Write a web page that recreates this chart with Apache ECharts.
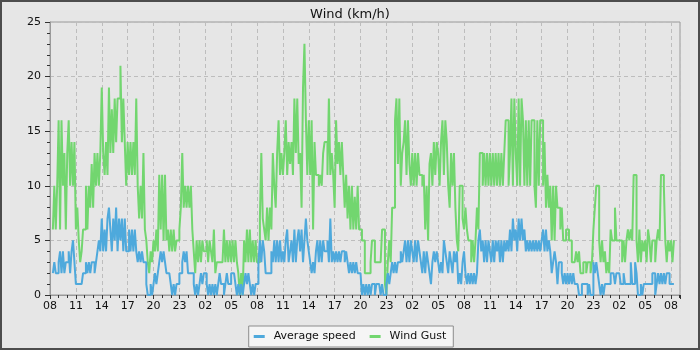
<!DOCTYPE html>
<html>
<head>
<meta charset="utf-8">
<script src="https://cdn.jsdelivr.net/npm/echarts@6/dist/echarts.min.js"></script>
<style>
html,body{margin:0;padding:0;background:#e6e6e6;}
#chart{width:700px;height:350px;}
</style>
</head>
<body>
<div id="chart"></div>
<script>
// Time base: first sample at 08:20, one sample every 10 minutes
const startHourOfDay = 8;
const firstSampleOffsetMin = 20;
const stepMin = 10;
const tickHours = ['08','11','14','17','20','23','02','05','08','11','14','17','20','23','02','05','08','11','14','17','20','23','02','05','08'];
const seriesNames = ['Average speed', 'Wind Gust'];

const avgSpeed = [
  2,3,2,2,
  3,4,2,4,2,3, 3,4,2,4,5,3, 1,1,1,1,1,2, 2,3,2,3,2,3, 3,2,3,4,5,4,
  7,4,6,4,7,8, 6,4,7,5,8,4, 7,5,7,4,7,4, 4,6,4,6,4,6, 4,3,4,3,4,3,
  3,1,0,0,1,0, 1,2,1,2,3,4, 3,4,3,2,2,2, 1,0,1,0,1,1, 2,2,3,4,3,4,
  2,2,2,2,1,0, 1,0,1,2,1,2, 2,1,0,1,0,1, 0,1,0,1,2,1, 1,0,1,2,1,1,
  2,2,2,1,0,1, 0,1,0,1,2,1, 2,1,0,1,0,1, 1,3,5,3,5,4, 2,2,2,2,4,3,
  5,3,5,3,5,3, 4,3,5,6,3,4, 5,3,6,3,5,6, 4,6,3,5,7,5, 4,3,2,3,2,4,
  5,3,5,3,5,4, 4,5,3,7,3,4, 3,4,3,4,3,4, 4,3,4,3,2,3, 2,3,2,3,2,2,
  2,0,1,0,1,0, 1,0,1,1,0,1, 1,1,0,1,0,0, 1,2,1,2,3,2, 3,2,3,3,4,3,
  4,5,3,5,3,5, 4,3,5,3,5,4, 3,2,4,2,4,3, 2,1,3,4,3,4, 3,2,3,2,5,4,
  3,2,4,3,2,4, 3,4,1,2,1,3, 4,2,1,2,1,2, 1,2,1,2,5,6, 4,5,3,5,3,5,
  4,3,5,3,5,4, 5,3,5,3,5,4, 5,4,6,4,7,5, 6,4,7,5,7,5, 6,4,5,4,5,4,
  5,4,5,4,5,4, 5,6,4,6,4,5, 4,2,3,4,3,1, 3,3,2,1,2,1, 2,1,2,1,2,1,
  1,1,0,0,1,1, 1,1,0,1,0,0, 3,2,3,2,1,0, 1,0,1,1,1,1, 2,2,2,1,2,2,
  2,1,1,2,1,1, 1,1,3,1,1,3, 2,0,0,1,0,1, 1,1,1,1,1,2, 2,0,1,2,1,2,
  1,2,1,2,2,1,
  1,1,1
];

const windGust = [
  6,10,6,10,
  16,6,16,10,13,6, 13,16,10,14,10,14, 6,8,5,3,4,6, 6,10,6,10,8,12, 8,13,10,13,10,13,
  19,13,11,14,11,19, 13,17,13,18,14,18, 18,21,14,18,14,10, 14,11,14,11,14,11, 18,10,7,10,7,13,
  6,5,3,2,4,3, 5,4,6,4,11,6, 11,5,11,5,6,4, 6,4,6,4,5,5, 6,8,13,8,10,8,
  10,8,10,6,4,2, 5,3,5,3,5,4, 4,5,3,5,4,3, 6,2,3,3,3,3, 3,6,3,5,3,5,
  3,5,3,5,3,2, 0,2,0,5,3,6, 3,6,3,5,3,5, 3,3,7,13,7,6, 5,8,5,8,6,13,
  10,8,13,16,11,13, 11,13,16,11,14,12, 14,11,18,13,18,12, 13,8,19,23,16,11, 16,11,16,6,14,11,
  11,10,11,10,13,14, 14,11,18,11,13,11, 8,16,12,14,11,14, 11,8,11,7,10,6, 10,6,9,6,10,6,
  6,5,5,2,2,2, 2,3,5,5,3,3, 3,3,3,6,6,1, 0,3,5,3,8,8, 16,18,12,18,10,13,
  14,16,11,16,12,10, 13,10,13,10,13,11, 11,10,11,6,10,5, 12,13,10,14,11,14, 13,10,14,16,11,16,
  14,10,8,13,10,13, 8,5,4,10,10,7, 6,8,6,5,5,3, 5,3,5,8,6,13, 13,10,13,10,13,10,
  13,10,13,10,13,10, 13,10,13,10,13,16, 16,10,13,18,10,18, 13,10,18,10,18,16, 10,16,10,16,10,16,
  16,10,8,16,10,16, 16,10,14,8,11,8, 10,5,10,5,10,8, 8,6,8,5,5,6, 6,5,5,3,3,3,
  4,3,4,2,2,3, 3,2,3,3,2,3, 6,8,10,10,5,3, 5,3,4,2,3,2, 6,5,5,8,5,5,
  5,5,3,5,3,5, 6,5,6,5,11,11, 5,3,6,3,5,4, 5,3,6,5,3,5, 5,3,5,6,5,11,
  11,10,5,3,5,4,
  5,3,5
];

const sampleHour = i => (firstSampleOffsetMin + i * stepMin) / 60; // hours since 08:00
const avgData = avgSpeed.map((v, i) => [sampleHour(i), v]);
const gustData = windGust.map((v, i) => [sampleHour(i), v]);

const chart = echarts.init(document.getElementById('chart'), null, {renderer: 'canvas'});
const font = 'DejaVu Sans';
chart.setOption({
  animation: false,
  backgroundColor: '#e6e6e6',
  textStyle: {fontFamily: font},
  title: {
    text: 'Wind (km/h)', left: 'center', top: 3,
    textStyle: {fontFamily: font, fontSize: 13, fontWeight: 'normal', color: '#111'}
  },
  graphic: [{
    type: 'rect', silent: true, z: 100,
    shape: {x: 0, y: 0, width: 700, height: 350},
    style: {fill: 'none', stroke: '#4d4d4d', lineWidth: 4}
  }],
  legend: {
    bottom: 3, left: 'center',
    backgroundColor: '#f5f5f5', borderColor: '#8c8c8c', borderWidth: 1, borderRadius: 0,
    padding: [5, 7, 5, 5], itemGap: 14, itemWidth: 11, itemHeight: 3,
    icon: 'rect',
    textStyle: {fontFamily: font, fontSize: 11, color: '#111', padding: [0, 0, 0, 4]},
    data: seriesNames
  },
  grid: {
    left: 50, right: 20, top: 22, bottom: 55,
    show: true, borderColor: '#9a9a9a', borderWidth: 1, backgroundColor: 'transparent'
  },
  xAxis: {
    type: 'value', min: 0, max: 73.04, interval: 3,
    axisLine: {show: true, lineStyle: {color: '#9a9a9a'}},
    axisTick: {show: true, length: 4, lineStyle: {color: '#333'}},
    minorTick: {show: true, splitNumber: 3, length: 3, lineStyle: {color: '#333'}},
    splitLine: {show: true, lineStyle: {color: '#bdbdbd', type: [4, 3]}},
    axisLabel: {
      fontFamily: font, fontSize: 11, color: '#111', margin: 6, showMaxLabel: false,
      formatter: v => {
        const k = Math.round(v / 3);
        return (Math.abs(v - k * 3) < 1e-6 && k < tickHours.length) ? tickHours[k] : '';
      }
    }
  },
  yAxis: {
    type: 'value', min: 0, max: 25, interval: 5,
    axisLine: {show: true, lineStyle: {color: '#9a9a9a'}},
    axisTick: {show: true, length: 5, lineStyle: {color: '#333'}},
    minorTick: {show: true, splitNumber: 5, length: 3, lineStyle: {color: '#333'}},
    splitLine: {show: true, lineStyle: {color: '#bdbdbd', type: [4, 3]}},
    axisLabel: {fontFamily: font, fontSize: 11, color: '#111', margin: 9}
  },
  series: [
    {
      name: seriesNames[0], type: 'line', step: 'end', data: avgData,
      showSymbol: false, symbol: 'none', z: 3,
      itemStyle: {color: '#4ea9dc'},
      lineStyle: {color: '#4ea9dc', width: 2}
    },
    {
      name: seriesNames[1], type: 'line', step: 'end', data: gustData,
      showSymbol: false, symbol: 'none', z: 2,
      itemStyle: {color: '#72d66f'},
      lineStyle: {color: '#72d66f', width: 2}
    }
  ]
});
</script>
</body>
</html>
